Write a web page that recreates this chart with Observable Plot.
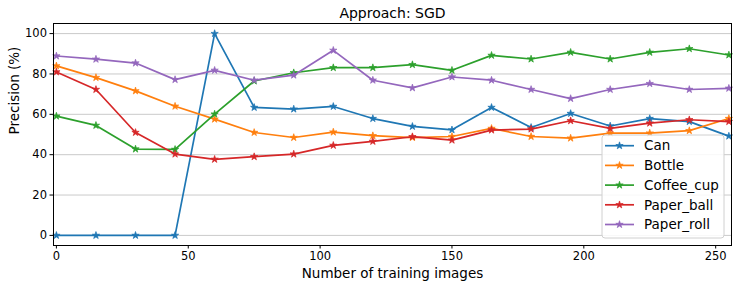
<!DOCTYPE html>
<html>
<head>
<meta charset="utf-8">
<script src="https://cdn.jsdelivr.net/npm/d3@7"></script>
<script src="https://cdn.jsdelivr.net/npm/@observablehq/plot@0.6"></script>
<style>
  html, body { margin: 0; padding: 0; background: #fff; }
  #chart { width: 737px; height: 287px; }
  svg { font-family: "DejaVu Sans", sans-serif; }
</style>
</head>
<body>
<div id="chart"></div>
<script>
// Number of training images at each evaluation step
const trainingImages = [0, 15, 30, 45, 60, 75, 90, 105, 120, 135, 150, 165, 180, 195, 210, 225, 240, 255];

// Precision (%) per object class
const can       = [0, 0, 0, 0, 100, 63.4, 62.6, 63.9, 57.9, 54.0, 52.3, 63.4, 53.5, 60.4, 54.2, 57.9, 56.4, 49.2];
const bottle    = [84.0, 78.2, 71.6, 64.0, 57.6, 51.0, 48.5, 51.2, 49.4, 48.5, 49.0, 53.0, 49.0, 48.2, 50.7, 50.7, 51.9, 57.9];
const coffeeCup = [59.1, 54.5, 42.8, 42.6, 60.1, 76.5, 80.6, 83.1, 83.1, 84.6, 81.8, 89.2, 87.4, 90.7, 87.4, 90.7, 92.5, 89.4];
const paperBall = [81.0, 72.3, 51.0, 40.3, 37.7, 39.0, 40.3, 44.6, 46.6, 48.9, 47.2, 52.2, 52.7, 56.8, 53.0, 55.6, 57.3, 56.4];
const paperRoll = [88.9, 87.3, 85.4, 77.2, 81.8, 76.9, 79.4, 91.7, 76.9, 73.1, 78.5, 76.9, 72.3, 67.8, 72.3, 75.2, 72.3, 72.9];

const seriesNames = ["Can", "Bottle", "Coffee_cup", "Paper_ball", "Paper_roll"];
const seriesValues = [can, bottle, coffeeCup, paperBall, paperRoll];
const seriesColors = ["#1f77b4", "#ff7f0e", "#2ca02c", "#d62728", "#9467bd"];

const xTicks = [0, 50, 100, 150, 200, 250];
const yTicks = [0, 20, 40, 60, 80, 100];

const titleText = "Approach: SGD";
const xLabel = "Number of training images";
const yLabel = "Precision (%)";

const rows = seriesNames.flatMap((name, i) =>
  trainingImages.map((n, j) => ({series: name, n, precision: seriesValues[i][j]}))
);

// Lines and markers are drawn per series so later series sit on top
const seriesMarks = seriesNames.flatMap(name => {
  const data = rows.filter(d => d.series === name);
  return [
    Plot.line(data, {x: "n", y: "precision", stroke: "series", strokeWidth: 1.7}),
    Plot.dot(data, {
      x: "n", y: "precision", fill: "series", stroke: "series",
      symbol: "star", r: 2.3, strokeWidth: 0.7
    })
  ];
});

const chart = Plot.plot({
  width: 737,
  height: 287,
  marginLeft: 53,
  marginRight: 6,
  marginTop: 23,
  marginBottom: 42,
  style: {fontFamily: "DejaVu Sans, sans-serif", background: "#fff", color: "#000"},
  x: {domain: [-1.1, 256]},
  y: {domain: [-5, 105]},
  color: {domain: seriesNames, range: seriesColors},
  marks: [
    Plot.gridY(yTicks, {stroke: "#b0b0b0", strokeOpacity: 0.75, strokeWidth: 0.9}),
    Plot.axisX(xTicks, {tickSize: 3.5, tickPadding: 3, fontSize: 11.5, label: null}),
    Plot.axisY(yTicks, {tickSize: 3.5, tickPadding: 3, fontSize: 11.5, label: null}),
    ...seriesMarks,
    Plot.frame({stroke: "#000", strokeWidth: 1}),
    Plot.text([titleText], {frameAnchor: "top", dy: -6, lineAnchor: "bottom", fontSize: 14, fill: "#000"}),
    Plot.text([xLabel], {frameAnchor: "bottom", dy: 32, lineAnchor: "bottom", fontSize: 13.5, fill: "#000"}),
    Plot.text([yLabel], {frameAnchor: "left", dx: -39, rotate: -90, fontSize: 13.5, fill: "#000"})
  ]
});

document.getElementById("chart").append(chart);

// Legend box in the lower-right corner of the plot area
const svg = d3.select(chart);
const legend = svg.append("g").attr("transform", "translate(602,135)");
legend.append("rect")
  .attr("width", 122).attr("height", 103)
  .attr("rx", 3).attr("ry", 3)
  .attr("fill", "#fff").attr("fill-opacity", 0.85)
  .attr("stroke", "#d0d0d0").attr("stroke-width", 1);
const star = d3.symbol(d3.symbolStar, 2.3 * 2.3 * Math.PI);
seriesNames.forEach((name, i) => {
  const g = legend.append("g").attr("transform", `translate(0,${10.7 + i * 19.7})`);
  g.append("line").attr("x1", 3).attr("x2", 32)
    .attr("stroke", seriesColors[i]).attr("stroke-width", 1.7);
  g.append("path").attr("d", star()).attr("transform", "translate(17.5,0)")
    .attr("fill", seriesColors[i]).attr("stroke", seriesColors[i]).attr("stroke-width", 0.7);
  g.append("text").attr("x", 42).attr("dy", "0.35em")
    .attr("text-anchor", "start")
    .attr("font-size", 13.5).attr("fill", "#000").text(name);
});
</script>
</body>
</html>
